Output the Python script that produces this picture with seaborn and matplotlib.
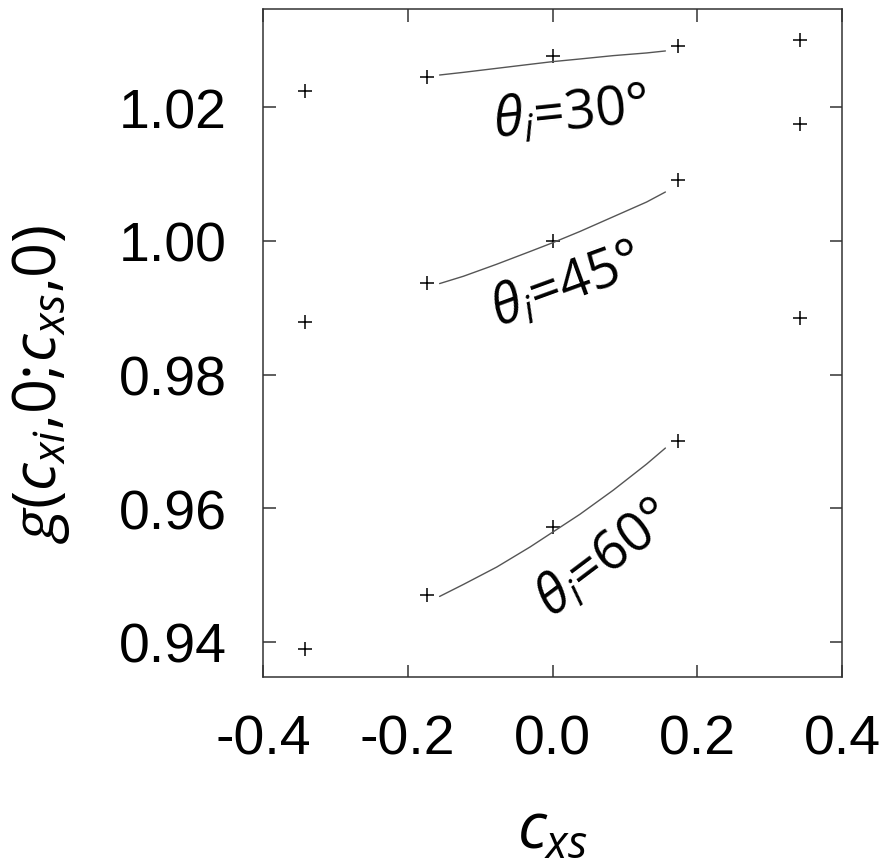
import pandas as pd
import matplotlib
matplotlib.use("Agg")
import matplotlib.pyplot as plt
import seaborn as sns

#DATOS
cxs_pts = [-0.342, -0.174, 0.0, 0.174, 0.342]
g30_pts = [1.0224, 1.0245, 1.0276, 1.0291, 1.0300]
g45_pts = [0.9878, 0.9937, 1.0000, 1.0091, 1.0175]
g60_pts = [0.9390, 0.9470, 0.9572, 0.9701, 0.9885]

cxs_line = [-0.156, -0.123, -0.077, -0.031, 0.0, 0.038, 0.084, 0.130, 0.156]
g30_line = [1.0248, 1.0252, 1.0258, 1.0264, 1.0268, 1.0272, 1.0277, 1.0281, 1.0284]
g45_line = [0.9936, 0.9947, 0.9965, 0.9984, 0.9997, 1.0014, 1.0036, 1.0058, 1.0073]
g60_line = [0.9468, 0.9486, 0.9512, 0.9542, 0.9564, 0.9591, 0.9627, 0.9666, 0.9690]

angulos = ["30", "45", "60"]
x_ticks = [-0.4, -0.2, 0.0, 0.2, 0.4]
x_labels = ["-0.4", "-0.2", "0.0", "0.2", "0.4"]
y_ticks = [0.94, 0.96, 0.98, 1.00, 1.02]
y_labels = ["0.94", "0.96", "0.98", "1.00", "1.02"]

#tablas largas para seaborn
pts = pd.DataFrame({
    "cxs": cxs_pts * 3,
    "g": g30_pts + g45_pts + g60_pts,
    "theta": [a for a in angulos for _ in cxs_pts],
})
lin = pd.DataFrame({
    "cxs": cxs_line * 3,
    "g": g30_line + g45_line + g60_line,
    "theta": [a for a in angulos for _ in cxs_line],
})

sns.set_style("ticks")
plt.rcParams["font.family"] = ["Liberation Sans", "DejaVu Sans"]
plt.rcParams["text.color"] = "black"
plt.rcParams["axes.labelcolor"] = "black"
plt.rcParams["xtick.labelcolor"] = "black"
plt.rcParams["ytick.labelcolor"] = "black"
plt.rcParams["mathtext.fontset"] = "custom"
plt.rcParams["mathtext.rm"] = "Open Sans"
plt.rcParams["mathtext.it"] = "Open Sans:italic"
plt.rcParams["mathtext.bf"] = "Open Sans:bold"

fig = plt.figure(figsize=(8.89, 8.62), dpi=100)
ax = fig.add_axes([263 / 889, 1 - 678 / 862, 579 / 889, 668.5 / 862])

sns.lineplot(data=lin, x="cxs", y="g", units="theta", estimator=None,
             color="#555555", linewidth=1.0, ax=ax, legend=False)
sns.scatterplot(data=pts, x="cxs", y="g", marker="+", color="black",
                s=95, linewidth=1.1, ax=ax, legend=False)

ax.set_xlim(-0.4, 0.4)
ax.set_ylim(0.93475, 1.03475)
ax.set_xticks(x_ticks)
ax.set_xticklabels(x_labels)
ax.set_yticks(y_ticks)
ax.set_yticklabels(y_labels)
ax.tick_params(direction="in", length=9, width=1.1, color="#333333",
               top=True, right=True, labelsize=40, pad=26)
for sp in ax.spines.values():
    sp.set_color("#333333")
    sp.set_linewidth(1.1)

#etiquetas de los ejes (sin espacio tras las comas)
ax.set_xlabel(r"$c_{xs}$", fontsize=46, family="Open Sans")
ax.set_ylabel(r"$g(c_{xi}{,}0{;}\!c_{xs}{,}0)$", fontsize=44, family="Open Sans")
ax.xaxis.set_label_coords(0.5, -0.18)
ax.yaxis.set_label_coords(-0.33, 0.44)

#etiquetas de cada curva
etiquetas = [(0.025, 1.0190, 6), (0.019, 0.9933, 20), (0.072, 0.9524, 37)]
for ang, (xt, yt, rot) in zip(angulos, etiquetas):
    ax.text(xt, yt, r"$\theta_i$=" + ang + "°", fontsize=39, family="Open Sans",
            rotation=rot, rotation_mode="anchor", ha="center", va="center")

fig.savefig("out.png", dpi=100)
